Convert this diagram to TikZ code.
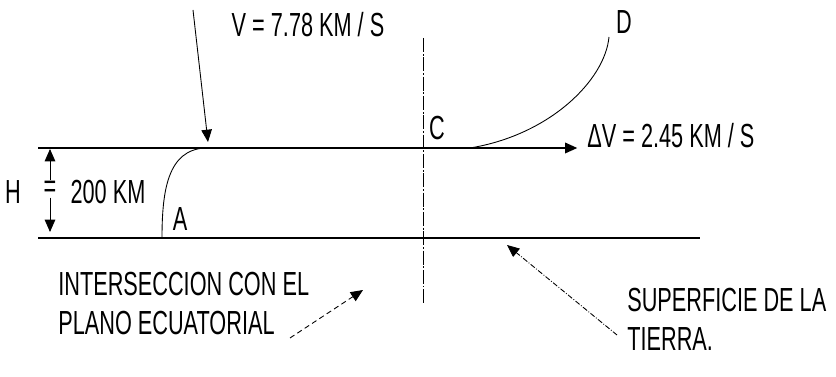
\documentclass[tikz,border=0pt]{standalone}
\usepackage{fontspec}
\setmainfont[FakeStretch=0.65]{Liberation Sans}
\usetikzlibrary{arrows.meta}

\begin{document}
\begin{tikzpicture}[x=0.02cm,y=-0.02cm,
    lbl/.style={font=\fontsize{19}{22}\selectfont,inner sep=0pt},
    tip/.style={-{Triangle[length=7pt,width=6pt]}},
    heavy/.style={line width=1pt},
    fine/.style={line width=0.5pt}]
  \useasboundingbox (0,0) rectangle (836,377);
  % orbit line, earth surface and equatorial plane
  \coordinate (orbL) at (38,148);
  \coordinate (surfL) at (38,238);
  \coordinate (surfR) at (700,238);
  \coordinate (eqTop) at (423,38);
  \coordinate (eqBot) at (423,303);
  \node[lbl,anchor=west] (dv) at (587,136) {ΔV = 2.45 KM / S};
  \draw[heavy,tip,shorten >=5.5pt] (orbL) -- (orbL -| dv.west);
  \draw[heavy] (surfL) -- (surfR);
  \draw[fine,dash pattern=on 8pt off 1pt on 1pt off 1pt] (eqTop) -- (eqBot);
  % trajectories
  \draw[fine] (162,238) .. controls (162,190) and (168,150) .. (205,148);
  \draw[fine] (470,148) .. controls (550,135) and (605,80) .. (609,37);
  \node[lbl] (A) at (180,219) {A};
  \node[lbl] (C) at (437,128) {C};
  \node[lbl] (D) at (624,22) {D};
  % height
  \node[lbl] (H) at (13,192) {H};
  \node[lbl] (eq) at (50,189) {=};
  \node[lbl] (km) at (108,192) {200 KM};
  \coordinate (hTop) at (50,149);
  \coordinate (hBot) at (50,232);
  \draw[fine,tip] (eq.north) -- (hTop);
  \draw[fine,tip] (eq.south) -- (hBot);
  % velocity
  \node[lbl] (v) at (308,25) {V = 7.78 KM / S};
  \coordinate (vStart) at (193,10);
  \coordinate (vEnd) at (208,142);
  \draw[fine,tip] (vStart) -- (vEnd);
  % notes
  \node[lbl,align=left,anchor=north west] (inter) at (58,272)
    {INTERSECCION CON EL\\PLANO ECUATORIAL};
  \coordinate (interEnd) at (363,290);
  \draw[fine,densely dashed,tip] (290,338) -- (interEnd);
  \node[lbl,align=left,anchor=north west] (surf) at (627,288)
    {SUPERFICIE DE LA\\TIERRA.};
  \coordinate (surfEnd) at (507,245);
  \draw[fine,densely dashdotted,tip] (617,335) -- (surfEnd);
\end{tikzpicture}
\end{document}
